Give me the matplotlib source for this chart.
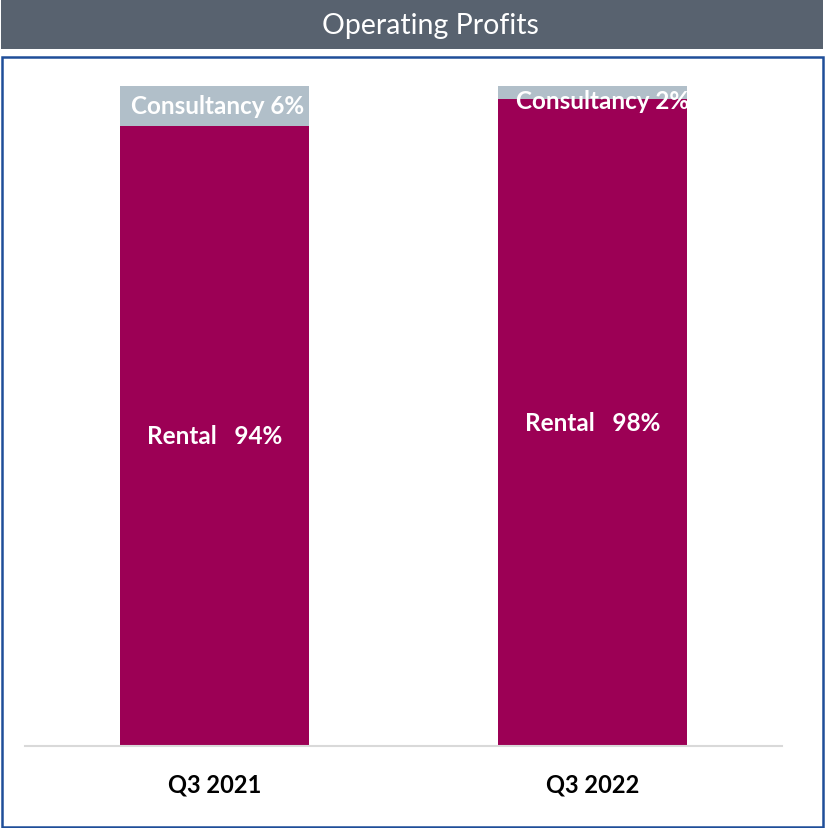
import matplotlib.pyplot as plt
import matplotlib.patches as patches

# Data
quarters = ['Q3 2021', 'Q3 2022']
rental = [94, 98]
consultancy = [6, 2]

rental_color = '#9c0055'
consult_color = '#b1bfc9'

plt.rcParams['font.family'] = ['Lato', 'DejaVu Sans']

fig = plt.figure(figsize=(8.25, 8.29), dpi=100)

# Title bar
fig.patches.append(patches.Rectangle((0.001, 1 - 50 / 829), 0.997, 50 / 829,
                                     transform=fig.transFigure, facecolor='#58626f',
                                     edgecolor='none', zorder=0))
fig.text(0.522, 1 - 26 / 829, 'Operating Profits', color='white', fontsize=20.5,
         ha='center', va='center')

# Blue frame around chart area
fig.patches.append(patches.Rectangle((1.5 / 825, 1.5 / 829), 821 / 825, (829 - 58 - 1.5) / 829,
                                     transform=fig.transFigure, facecolor='none',
                                     edgecolor='#1f4e99', linewidth=1.8, zorder=0))

ax = fig.add_axes([25 / 825, (829 - 747) / 829, 757 / 825, 660 / 829])
x = range(len(quarters))
ax.bar(x, rental, width=0.5, color=rental_color)
ax.bar(x, consultancy, width=0.5, bottom=rental, color=consult_color)

ax.set_xlim(-0.5, 1.5)
ax.set_ylim(0, 100)
for s in ['top', 'right', 'left']:
    ax.spines[s].set_visible(False)
ax.spines['bottom'].set_color('#d9d9d9')
ax.spines['bottom'].set_linewidth(1.5)
ax.set_yticks([])
ax.set_xticks(list(x))
ax.set_xticklabels(quarters, fontsize=17, fontweight='bold')
ax.tick_params(axis='x', length=0, pad=19)

for i in x:
    ax.text(i, rental[i] / 2, 'Rental   %d%%' % rental[i], color='white',
            fontsize=17.5, fontweight='bold', ha='center', va='center')
    top_mid = rental[i] + consultancy[i] / 2
    if consultancy[i] < 4:
        top_mid -= 1.2
    ax.text(i + (0.025 if consultancy[i] < 4 else 0.01), top_mid,
            'Consultancy %d%%' % consultancy[i], color='white',
            fontsize=17.5, fontweight='bold', ha='center', va='center')

plt.savefig('out.png', dpi=100)
